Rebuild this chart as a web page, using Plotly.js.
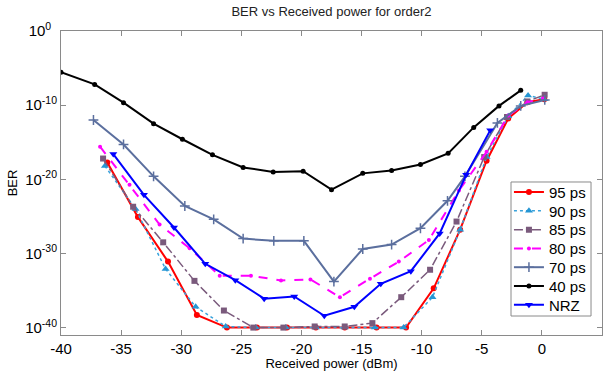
<!DOCTYPE html>
<html>
<head>
<meta charset="utf-8">
<script src="https://cdn.plot.ly/plotly-3.0.1.min.js"></script>
<style>html,body{margin:0;padding:0;background:#fff;}#chart{width:603px;height:371px;}</style>
</head>
<body>
<div id="chart"></div>
<script>
// Received power (dBm) and log10(BER)
const x95 = [-36.15, -33.6, -31.1, -28.7, -26.2, -23.7, -21.2, -18.8, -16.4, -13.75, -11.3, -9.0, -6.8, -4.6, -2.8, -1.2, 0.2];
const lb95 = [-17.75, -25.1, -31.1, -38.3, -40, -40, -40, -40, -40, -40, -40, -34.7, -26.8, -17.5, -11.8, -9.6, -9.2];

const x90 = [-36.35, -33.8, -31.3, -28.8, -26.3, -23.8, -21.3, -18.8, -16.4, -13.9, -11.5, -9.1, -6.8, -4.6, -2.8, -1.15, 0.2];
const lb90 = [-18.2, -24.0, -32.1, -37.2, -39.85, -40, -40, -40, -40, -40, -40, -35.9, -26.8, -17.0, -11.5, -8.7, -9.2];

const x85 = [-36.5, -34.0, -31.5, -28.9, -26.45, -24.0, -21.5, -18.9, -16.4, -14.1, -11.7, -9.3, -7.1, -4.8, -2.9, -1.2, 0.23];
const lb85 = [-17.2, -23.7, -28.5, -33.7, -37.7, -40, -40, -39.85, -39.85, -39.4, -35.9, -32.2, -25.7, -17.0, -11.6, -9.5, -8.6];

const x80 = [-36.75, -34.3, -31.8, -29.3, -26.8, -24.2, -21.7, -19.25, -16.8, -14.3, -11.9, -9.4, -6.9, -4.6, -2.8, -1.2, 0.1];
const lb80 = [-15.6, -20.75, -26.1, -29.3, -33.0, -33.0, -33.65, -33.5, -35.9, -33.4, -31.1, -28.2, -21.5, -16.3, -11.4, -9.6, -9.1];

const x70 = [-37.3, -34.8, -32.3, -29.7, -27.3, -24.85, -22.3, -19.8, -17.3, -14.9, -12.5, -10.1, -7.85, -6.4, -3.7, -1.76, 0.24];
const lb70 = [-12.0, -15.3, -19.6, -23.6, -25.4, -28.0, -28.3, -28.3, -33.8, -29.4, -28.8, -26.6, -22.9, -19.6, -12.4, -10.1, -9.3];

const x40 = [-40, -37.2, -34.8, -32.3, -29.9, -27.4, -24.85, -22.35, -19.86, -17.5, -14.9, -12.5, -10.1, -7.8, -5.67, -3.57, -1.76];
const lb40 = [-5.57, -7.2, -9.66, -12.5, -14.6, -16.7, -18.4, -19.0, -18.9, -21.4, -19.2, -18.8, -18.0, -16.5, -13.0, -10.1, -8.0];

const xNRZ = [-35.65, -33.1, -30.6, -28.0, -25.5, -23.1, -20.6, -18.1, -15.6, -13.4, -10.9, -8.5, -6.3, -4.3];
const lbNRZ = [-16.6, -22.1, -26.5, -31.4, -33.6, -36.1, -35.8, -38.4, -37.2, -34.1, -32.4, -27.3, -19.4, -13.4];

const seriesNames = ['95 ps', '90 ps', '85 ps', '80 ps', '70 ps', '40 ps', 'NRZ'];
const xTickVals = [-40, -35, -30, -25, -20, -15, -10, -5, 0, 5];
const xTickText = ['-40', '-35', '-30', '-25', '-20', '-15', '-10', '-5', '0', '5'];
const yTickExp = [0, -10, -20, -30, -40];
const yTickText = ['10<sup>0\u00a0\u00a0</sup>', '10<sup>-10</sup>', '10<sup>-20</sup>', '10<sup>-30</sup>', '10<sup>-40</sup>'];

const toBER = a => a.map(v => Math.pow(10, v));
const font = 'Arial, "Liberation Sans", sans-serif';

const traces = [
  {x: x95, y: toBER(lb95), name: seriesNames[0], mode: 'lines+markers',
   line: {color: '#ff0000', width: 2}, marker: {symbol: 'circle', size: 6, color: '#ff0000'}},
  {x: x90, y: toBER(lb90), name: seriesNames[1], mode: 'lines+markers',
   line: {color: '#3aa3dc', width: 1.5, dash: 'dot'}, marker: {symbol: 'triangle-up', size: 7, color: '#2596d4'}},
  {x: x85, y: toBER(lb85), name: seriesNames[2], mode: 'lines+markers',
   line: {color: '#7a5a7c', width: 1.5, dash: 'dashdot'}, marker: {symbol: 'square', size: 6, color: '#7a5a7c'}},
  {x: x80, y: toBER(lb80), name: seriesNames[3], mode: 'lines+markers',
   line: {color: '#ff00ff', width: 2, dash: 'dash'}, marker: {symbol: 'circle', size: 4, color: '#ff00ff'}},
  {x: x70, y: toBER(lb70), name: seriesNames[4], mode: 'lines+markers',
   line: {color: '#5b6f9e', width: 2}, marker: {symbol: 'cross-thin-open', size: 7, color: '#5b6f9e', line: {width: 1.5, color: '#5b6f9e'}}},
  {x: x40, y: toBER(lb40), name: seriesNames[5], mode: 'lines+markers',
   line: {color: '#000000', width: 2}, marker: {symbol: 'circle', size: 5, color: '#000000'}},
  {x: xNRZ, y: toBER(lbNRZ), name: seriesNames[6], mode: 'lines+markers',
   line: {color: '#0000ff', width: 2}, marker: {symbol: 'triangle-down', size: 7, color: '#0000ff'}}
];

const layout = {
  width: 603, height: 371,
  margin: {l: 61, r: 1, t: 31, b: 36, pad: 0},
  paper_bgcolor: '#ffffff', plot_bgcolor: '#ffffff',
  font: {family: font, color: '#000000', size: 15},
  title: {text: 'BER vs Received power for order2', font: {family: font, size: 13, color: '#222'},
          x: 0.5, xref: 'paper', xanchor: 'center', y: 1, yref: 'container', yanchor: 'top', pad: {t: 7}},
  xaxis: {
    range: [-40, 5], tickmode: 'array', tickvals: xTickVals, ticktext: xTickText,
    ticks: 'inside', ticklen: 5, tickcolor: '#8a8a8a', showline: true, linecolor: '#8a8a8a', linewidth: 1,
    mirror: 'ticks', showgrid: false, zeroline: false, tickfont: {size: 15},
    title: {text: 'Received power (dBm)', font: {size: 13}, standoff: 0}
  },
  yaxis: {
    type: 'log', range: [-41, 0], tickmode: 'array', tickvals: yTickExp.map(e => Math.pow(10, e)), ticktext: yTickText,
    ticks: 'inside', ticklen: 5, tickcolor: '#8a8a8a', showline: true, linecolor: '#8a8a8a', linewidth: 1,
    mirror: 'ticks', showgrid: false, zeroline: false, tickfont: {size: 15},
    title: {text: 'BER', font: {size: 13}, standoff: 4}
  },
  showlegend: true,
  shapes: [{type: 'rect', xref: 'paper', yref: 'paper', x0: 0.8318, x1: 0.9797, y0: 0.0625, y1: 0.5033,
            fillcolor: '#ffffff', line: {color: '#8a8a8a', width: 1}, layer: 'above'}]
};

// one legend per series so the rows sit as close together as in the reference
const legendX = 0.828;
const rowTop = 0.4694, rowStep = 0.0618;
traces.forEach((t, i) => {
  const key = i === 0 ? 'legend' : 'legend' + (i + 1);
  t.legend = i === 0 ? 'legend' : key;
  layout[key] = {x: legendX, xanchor: 'left', y: rowTop - i * rowStep, yanchor: 'middle',
                 bgcolor: 'rgba(0,0,0,0)', borderwidth: 0, font: {size: 15, family: font}};
});

Plotly.newPlot('chart', traces, layout, {displayModeBar: false, staticPlot: true});
</script>
</body>
</html>
